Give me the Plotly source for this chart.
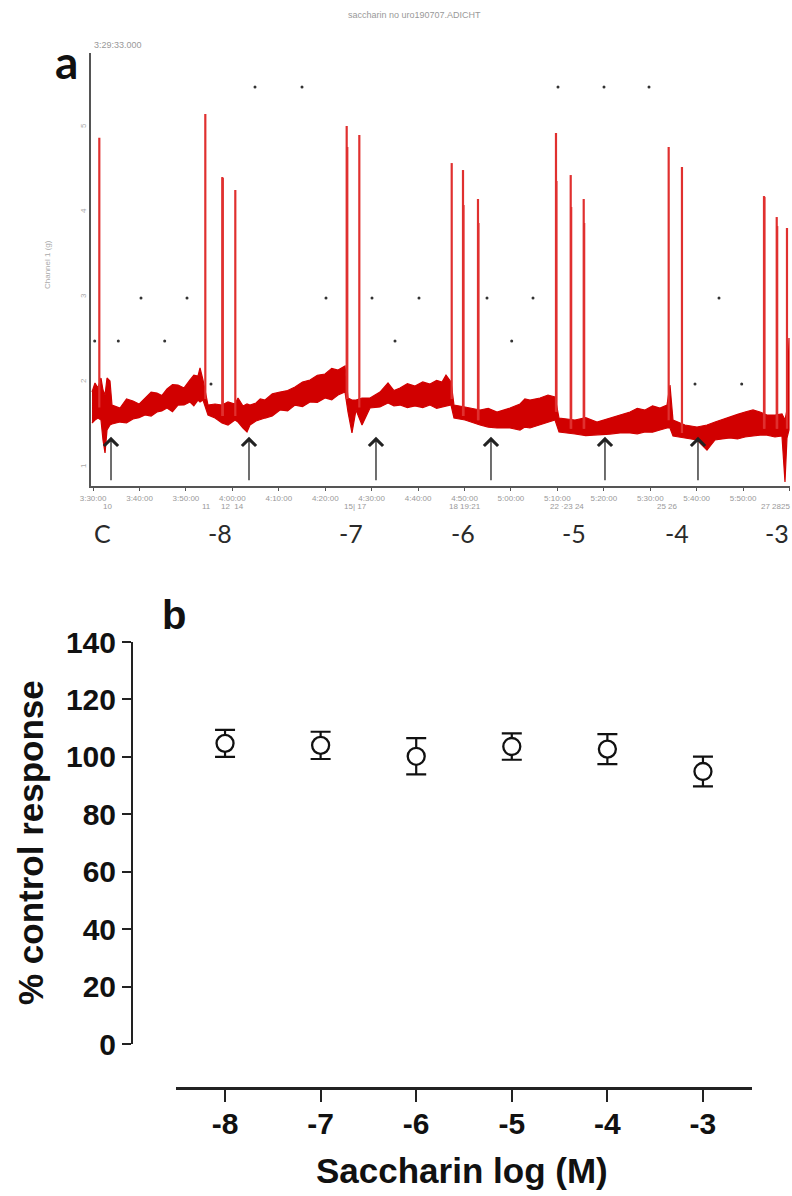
import plotly.graph_objects as go

W, H = 792, 1196

# ---------------- Panel a data (time in minutes after 3:00:00, force in g) ----------------
env_t = [29.77, 30.41, 31.06, 31.70, 32.13, 32.57, 33.00, 33.64, 34.07, 35.80, 37.20, 38.60,
         39.90, 41.18, 42.50, 43.76, 44.80, 45.92, 47.10, 48.29, 49.60, 50.87, 51.70, 52.60,
         53.03, 53.67, 54.32, 54.75, 56.26, 57.76, 59.06, 60.56, 61.21, 62.29, 63.15, 63.79,
         65.09, 66.00, 67.03, 68.60, 70.26, 71.90, 73.49, 75.10, 76.72, 78.30, 79.95, 81.40,
         82.75, 84.26, 84.90, 85.76, 86.63, 87.92, 89.64, 91.79, 93.52, 94.80, 96.10, 97.70,
         99.33, 101.00, 102.56, 104.00, 105.15, 106.01, 107.09, 107.73, 110.10, 113.33, 115.10,
         116.99, 119.79, 121.95, 123.00, 124.10, 126.25, 127.98, 129.49, 130.35, 133.79, 136.10,
         138.53, 141.33, 143.49, 145.64, 147.20, 148.87, 150.50, 152.10, 153.61, 154.25, 154.90,
         157.48, 160.07, 162.22, 163.95, 165.50, 167.18, 168.80, 170.41, 172.13, 173.64, 175.14,
         176.86, 178.37, 179.02, 179.45, 179.88]
env_hi = [1.882, 1.988, 1.929, 2.047, 1.906, 1.847, 2.047, 2.012, 1.729, 1.694, 1.800, 1.776,
          1.740, 1.812, 1.880, 1.871, 1.840, 1.918, 1.970, 1.965, 1.930, 2.024, 2.080, 2.071,
          2.165, 2.024, 1.847, 1.729, 1.741, 1.729, 1.765, 1.741, 1.812, 1.718, 1.741, 1.729,
          1.753, 1.800, 1.788, 1.860, 1.882, 1.900, 1.941, 2.000, 2.024, 2.080, 2.094, 2.160,
          2.141, 2.188, 1.812, 1.788, 1.788, 1.812, 1.812, 1.882, 1.988, 1.900, 1.929, 1.980,
          1.953, 2.000, 1.976, 2.020, 2.000, 2.082, 2.000, 1.729, 1.706, 1.671, 1.690,
          1.647, 1.694, 1.741, 1.800, 1.788, 1.812, 1.847, 1.824, 1.576, 1.553, 1.580,
          1.529, 1.576, 1.612, 1.647, 1.690, 1.671, 1.720, 1.694, 1.729, 1.965, 1.553,
          1.494, 1.471, 1.494, 1.529, 1.560, 1.588, 1.620, 1.647, 1.671, 1.647, 1.612,
          1.612, 1.624, 1.553, 1.671, 2.518]
env_lo = [1.518, 1.553, 1.576, 1.553, 1.318, 1.165, 1.435, 1.494, 1.506, 1.529, 1.520, 1.565,
          1.580, 1.612, 1.600, 1.647, 1.660, 1.694, 1.650, 1.729, 1.730, 1.765, 1.720, 1.788,
          1.765, 1.788, 1.694, 1.612, 1.576, 1.518, 1.494, 1.553, 1.529, 1.459, 1.412, 1.494,
          1.541, 1.560, 1.576, 1.600, 1.671, 1.660, 1.729, 1.710, 1.765, 1.760, 1.812, 1.790,
          1.847, 1.882, 1.647, 1.400, 1.671, 1.494, 1.694, 1.706, 1.753, 1.720, 1.729, 1.700,
          1.718, 1.700, 1.729, 1.690, 1.706, 1.718, 1.729, 1.576, 1.553, 1.494, 1.470,
          1.459, 1.459, 1.435, 1.470, 1.459, 1.494, 1.529, 1.553, 1.412, 1.388, 1.370,
          1.376, 1.388, 1.400, 1.400, 1.390, 1.412, 1.410, 1.435, 1.459, 1.459, 1.365,
          1.341, 1.318, 1.200, 1.318, 1.330, 1.341, 1.330, 1.353, 1.365, 1.376, 1.376,
          1.353, 1.365, 0.824, 1.341, 1.435]

# contraction spikes: time, baseline, peak
spike_t = [31.34, 54.17, 57.83, 57.94, 60.63, 84.62, 84.75, 87.34, 107.24, 109.67, 109.78,
           112.90, 113.00, 129.70, 129.80, 132.87, 132.97, 135.67, 135.77, 153.97, 156.83,
           174.50, 174.60, 177.24, 177.34, 179.45]
spike_base = [1.70, 1.80, 1.60, 1.60, 1.60, 1.80, 1.80, 1.70, 1.80, 1.60, 1.60,
              1.55, 1.55, 1.65, 1.65, 1.45, 1.45, 1.45, 1.45, 1.55, 1.40,
              1.45, 1.45, 1.45, 1.45, 1.45]
spike_peak = [4.874, 5.153, 4.412, 4.400, 4.259, 5.012, 4.765, 4.906, 4.576, 4.494, 4.082,
              4.153, 3.871, 4.929, 4.365, 4.435, 4.059, 4.153, 3.871, 4.765, 4.529,
              4.188, 4.176, 3.941, 3.835, 3.812]

# stray marker dots of the recording software
dot_t = [64.87, 75.00, 130.13, 140.04, 149.73,
         40.32, 50.23, 80.16, 90.07, 100.19, 114.84, 124.75, 164.81,
         30.35, 35.43, 45.42, 95.03, 120.16,
         55.39, 159.64, 169.70]
dot_v = [5.471, 5.471, 5.471, 5.471, 5.471,
         2.988, 2.988, 2.988, 2.988, 2.988, 2.988, 2.988, 2.988,
         2.482, 2.482, 2.482, 2.482, 2.482,
         1.976, 1.976, 1.976]

# drug addition arrows
arrow_t = [33.86, 63.58, 90.93, 115.70, 140.25, 160.28]
arrow_tip = 1.356

# time tick labels
time_ticks = [30, 40, 50, 60, 70, 80, 90, 100, 110, 120, 130, 140, 150, 160, 170, 180]
time_labels = ["3:30:00", "3:40:00", "3:50:00", "4:00:00", "4:10:00", "4:20:00", "4:30:00",
               "4:40:00", "4:50:00", "5:00:00", "5:10:00", "5:20:00", "5:30:00", "5:40:00",
               "5:50:00", "6:00:00"]

# event comment labels along the time axis
event_t = [33.21, 54.53, 60.13, 86.41, 110.10, 132.07, 153.82, 176.87]
event_text = ["10", "11", "12  14", "15| 17", "18 19:21", "22 \u00b723 24", "25 26", "27 2825"]

# concentration labels under the trace
conc_t = [32.13, 57.33, 85.55, 109.67, 133.58, 155.76, 177.30]
conc_text = ["C", "-8", "-7", "-6", "-5", "-4", "-3"]

# ---------------- Panel b data ----------------
log_conc = [-8, -7, -6, -5, -4, -3]
response = [104.7, 104.0, 100.2, 103.6, 102.7, 94.9]
sem = [4.7, 4.75, 6.3, 4.6, 5.2, 5.2]

# ---------------- Figure ----------------
fig = go.Figure()

band_x = env_t + env_t[::-1]
band_y = env_hi + env_lo[::-1]
fig.add_trace(go.Scatter(x=band_x, y=band_y, mode="lines", fill="toself",
                         fillcolor="#d10000", line=dict(color="#d10000", width=1.2),
                         xaxis="x", yaxis="y", hoverinfo="skip", showlegend=False))

sx, sy = [], []
for t, b, p in zip(spike_t, spike_base, spike_peak):
    sx += [t, t, None]
    sy += [b, p, None]
fig.add_trace(go.Scatter(x=sx, y=sy, mode="lines", line=dict(color="#e0302f", width=2.2),
                         xaxis="x", yaxis="y", hoverinfo="skip", showlegend=False))

fig.add_trace(go.Scatter(x=dot_t, y=dot_v, mode="markers",
                         marker=dict(size=3, color="#333333"),
                         xaxis="x", yaxis="y", hoverinfo="skip", showlegend=False))

fig.add_trace(go.Scatter(x=log_conc, y=response, mode="markers",
                         marker=dict(symbol="circle", size=17, color="white",
                                     line=dict(color="#111111", width=2.3)),
                         error_y=dict(type="data", array=sem, visible=True,
                                      color="#111111", thickness=2.2, width=10),
                         xaxis="x2", yaxis="y2", showlegend=False))


def fx(p):
    return p / W


def fy(p):
    return 1 - p / H


C = dict(xanchor="center", yanchor="middle", showarrow=False)
SMALL = "Liberation Sans Narrow, Liberation Sans"

annotations = []
for t in arrow_t:
    annotations.append(dict(x=t, y=arrow_tip, xref="x", yref="y", text="", showarrow=True,
                            ax=0, ay=45, arrowhead=4, arrowsize=2.1, arrowwidth=1.3,
                            arrowcolor="#222222"))
for t, s in zip(event_t, event_text):
    annotations.append(dict(x=t, y=fy(506), xref="x", yref="paper", text=s,
                            font=dict(family=SMALL, size=8, color="#999999"),
                            bgcolor="white", borderpad=0, **C))
for t, s in zip(conc_t, conc_text):
    annotations.append(dict(x=t, y=fy(533), xref="x", yref="paper", text=s,
                            font=dict(family="Lato", size=25, color="#2a2a2a"), **C))

annotations += [
    dict(x=fx(414), y=fy(15), xref="paper", yref="paper", text="saccharin no uro190707.ADICHT",
         font=dict(family=SMALL, size=9, color="#999999"), **C),
    dict(x=fx(118), y=fy(45), xref="paper", yref="paper", text="3:29:33.000",
         font=dict(family=SMALL, size=9, color="#999999"), **C),
    dict(x=fx(47), y=fy(265), xref="paper", yref="paper", text="Channel 1 (g)", textangle=-90,
         font=dict(family="Liberation Sans", size=8, color="#aaaaaa"), **C),
    dict(x=fx(66), y=fy(62), xref="paper", yref="paper", text="a",
         font=dict(family="Lato", size=46, color="#111111", weight="bold"), **C),
    dict(x=fx(174), y=fy(615), xref="paper", yref="paper", text="b",
         font=dict(family="Liberation Sans", size=40, color="#111111", weight="bold"), **C),
    dict(x=fx(30), y=fy(843), xref="paper", yref="paper", text="% control response",
         textangle=-90,
         font=dict(family="Liberation Sans", size=35, color="#111111", weight="bold"), **C),
    dict(x=fx(462), y=fy(1170), xref="paper", yref="paper", text="Saccharin log (M)",
         font=dict(family="Liberation Sans", size=35, color="#111111", weight="bold"), **C),
]

fig.update_layout(
    template="none",
    width=W, height=H, autosize=False,
    margin=dict(l=0, r=0, t=0, b=0),
    paper_bgcolor="white", plot_bgcolor="rgba(0,0,0,0)",
    showlegend=False,
    font=dict(family="Liberation Sans", color="#111111"),
    xaxis=dict(domain=[fx(91), fx(790)], range=[29.55, 180.1], anchor="y",
               showline=True, linecolor="#555555", linewidth=2, mirror=False,
               ticks="outside", ticklen=3, tickcolor="#555555", tickwidth=1,
               tickvals=time_ticks, ticktext=time_labels,
               tickfont=dict(family=SMALL, size=8, color="#999999"),
               showgrid=False, zeroline=False, automargin=False),
    yaxis=dict(domain=[fy(486), fy(53)], range=[0.7765, 5.871], anchor="x",
               showline=True, linecolor="#555555", linewidth=2,
               ticks="", tickvals=[1, 2, 3, 4, 5], ticktext=["1", "2", "3", "4", "5"],
               tickangle=-90, tickfont=dict(size=8, color="#aaaaaa"),
               showgrid=False, zeroline=False, automargin=False),
    xaxis2=dict(domain=[fx(176), fx(752)], range=[-8.513, -2.487], anchor="free",
                position=fy(1088),
                showline=True, linecolor="#222222", linewidth=2.5,
                ticks="outside", ticklen=12, tickwidth=2, tickcolor="#222222",
                tickvals=log_conc, ticktext=[str(v) for v in log_conc],
                ticklabelstandoff=-4,
                tickfont=dict(family="Liberation Sans", size=30, color="#111111",
                              weight="bold"),
                showgrid=False, zeroline=False, automargin=False),
    yaxis2=dict(domain=[fy(1044), fy(642)], range=[0, 140], anchor="free",
                position=fx(132),
                showline=True, linecolor="#222222", linewidth=2,
                ticks="outside", ticklen=9, tickwidth=2, tickcolor="#222222",
                tickvals=[0, 20, 40, 60, 80, 100, 120, 140],
                tickfont=dict(family="Liberation Sans", size=30, color="#111111",
                              weight="bold"),
                showgrid=False, zeroline=False, automargin=False),
    annotations=annotations,
)

fig.write_html("out.html",
               config={"displayModeBar": False},
               post_script="document.body.style.margin='0';document.body.style.overflow='hidden';")
